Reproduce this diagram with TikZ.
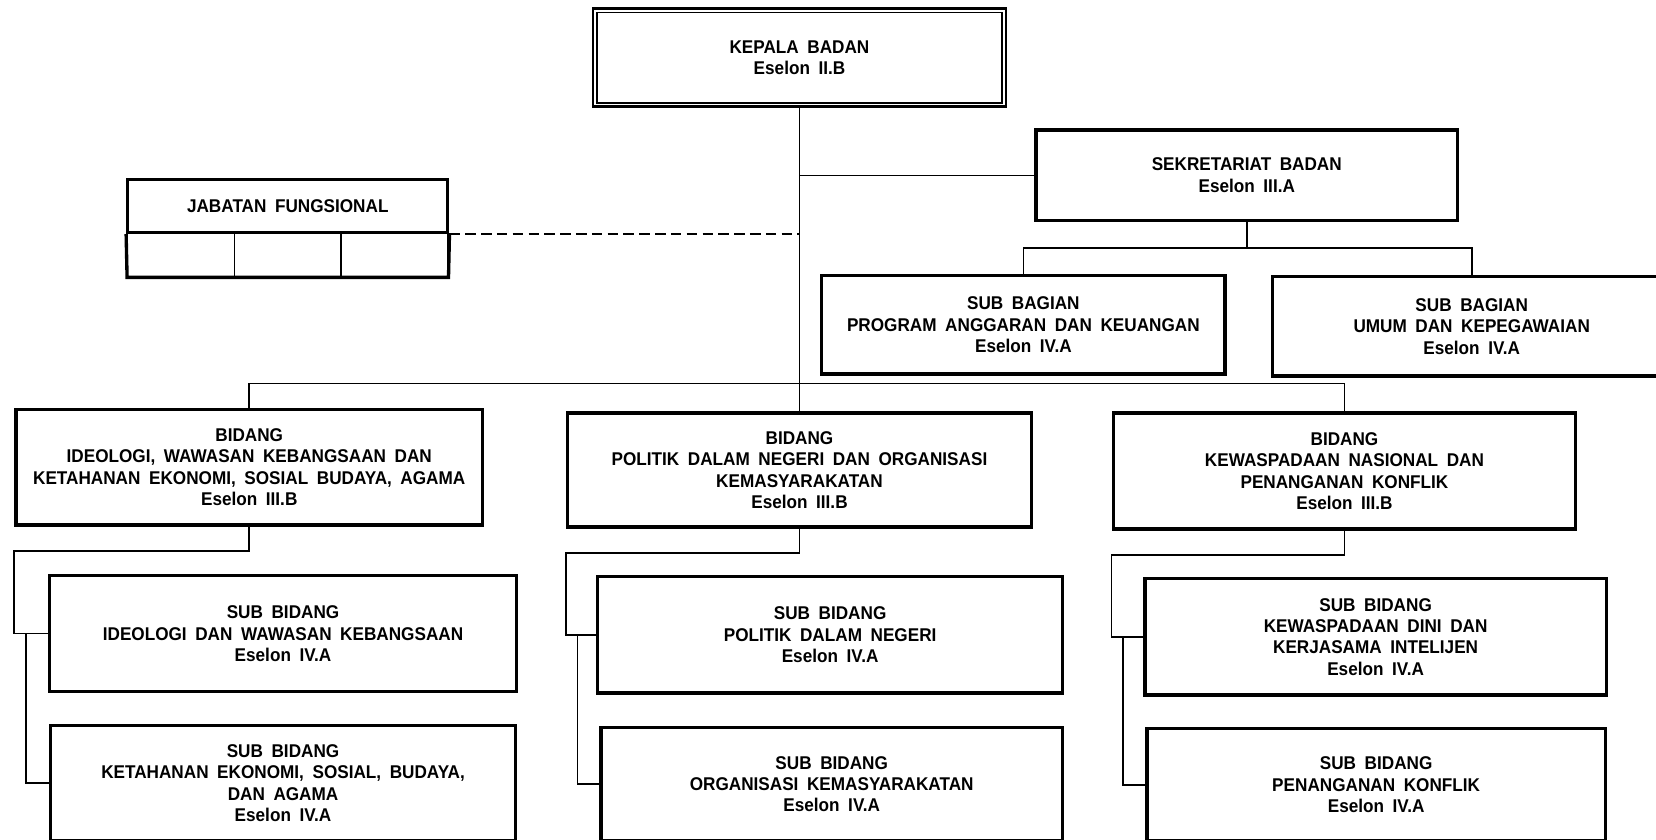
\documentclass[tikz,border=0pt]{standalone}
\usepackage{fontspec}
\setmainfont{Liberation Sans}[FakeStretch=0.93, WordSpace=1.8]
\tikzset{
  box/.style 2 args={draw, line width=1.9pt, minimum width=#1*0.601pt, minimum height=#2*0.601pt,
    inner sep=0pt, align=center, font=\fontsize{10.5}{12.2}\selectfont\bfseries},
  cell/.style={draw, line width=0.8pt, minimum width=101*0.601pt, minimum height=42*0.601pt, inner sep=0pt},
  link/.style={line width=0.9pt},
  trunk/.style={line width=0.6pt},
  dashlink/.style={line width=1.3pt, dash pattern=on 6pt off 3pt}
}
\begin{document}
\begin{tikzpicture}[x=0.601pt,y=-0.601pt]
    \useasboundingbox (0,0) rectangle (1568,795);
    \clip (0,0) rectangle (1568,795);
    \node[box={391}{93}, line width=1.4pt] (kepala) at (757,54.5) {KEPALA BADAN\\Eselon II.B};
    \draw[line width=1.1pt] ([shift={(5,5)}]kepala.north west) rectangle ([shift={(-5,-5)}]kepala.south east);
    \node[box={399}{86}] (sekre) at (1180.5,166) {SEKRETARIAT BADAN\\Eselon III.A};
    \node[box={303}{50}] (jabfung) at (272.5,195) {JABATAN FUNGSIONAL};
    \foreach \i/\cx in {1/171.5, 2/272.5, 3/373.5}
        \node[cell] (cell\i) at (\cx,241) {};
    \draw[line width=1.9pt] (jabfung.south west) -- (cell1.south west) -- (cell3.south east) -- (jabfung.south east);
    \node[box={382}{93}] (subbag1) at (969,307.5) {SUB BAGIAN\\PROGRAM ANGGARAN DAN KEUANGAN\\Eselon IV.A};
    \node[box={377}{94}] (subbag2) at (1393.5,309) {SUB BAGIAN\\UMUM DAN KEPEGAWAIAN\\Eselon IV.A};
    \node[box={442}{109}] (bid1) at (236,442.5) {BIDANG\\IDEOLOGI, WAWASAN KEBANGSAAN DAN\\KETAHANAN EKONOMI, SOSIAL BUDAYA, AGAMA\\Eselon III.B};
    \node[box={439}{108}] (bid2) at (757,445) {BIDANG\\POLITIK DALAM NEGERI DAN ORGANISASI\\KEMASYARAKATAN\\Eselon III.B};
    \node[box={438}{110}] (bid3) at (1273,446) {BIDANG\\KEWASPADAAN NASIONAL DAN\\PENANGANAN KONFLIK\\Eselon III.B};
    \node[box={442}{110}] (subA1) at (268,600) {SUB BIDANG\\IDEOLOGI DAN WAWASAN KEBANGSAAN\\Eselon IV.A};
    \node[box={440}{109}] (subB1) at (268,741.5) {SUB BIDANG\\KETAHANAN EKONOMI, SOSIAL, BUDAYA,\\DAN AGAMA\\Eselon IV.A};
    \node[box={440}{110}] (subA2) at (786,601) {SUB BIDANG\\POLITIK DALAM NEGERI\\Eselon IV.A};
    \node[box={437}{107}] (subB2) at (787.5,742.5) {SUB BIDANG\\ORGANISASI KEMASYARAKATAN\\Eselon IV.A};
    \node[box={437}{110}] (subA3) at (1302.5,603) {SUB BIDANG\\KEWASPADAAN DINI DAN\\KERJASAMA INTELIJEN\\Eselon IV.A};
    \node[box={434}{106}] (subB3) at (1303,743) {SUB BIDANG\\PENANGANAN KONFLIK\\Eselon IV.A};
    \draw[trunk] (kepala.south) -- (bid2.north);
    \draw[link] (sekre.west) -- (sekre.west -| kepala.south);
    \draw[dashlink] (jabfung.south east) -- (jabfung.south east -| kepala.south);
    \path (sekre.south) ++(0,24) coordinate (sekbus);
    \draw[link] (sekre.south) -- (sekbus);
    \draw[link] (subbag1.north) |- (sekbus) -| (subbag2.north);
    \coordinate (bus) at (757,363);
    \draw[link] (bid1.north) |- (bus) -| (bid3.north);
    \foreach \i in {1,2,3} {
        \draw[link] (bid\i.south) -- ++(0,23) -| (bid\i.west |- subA\i.west) -- (subA\i.west);
        \draw[link] ([xshift=6.6pt]bid\i.west |- subA\i.west) |- (subB\i.west);
    }
    \end{tikzpicture}
\end{document}
